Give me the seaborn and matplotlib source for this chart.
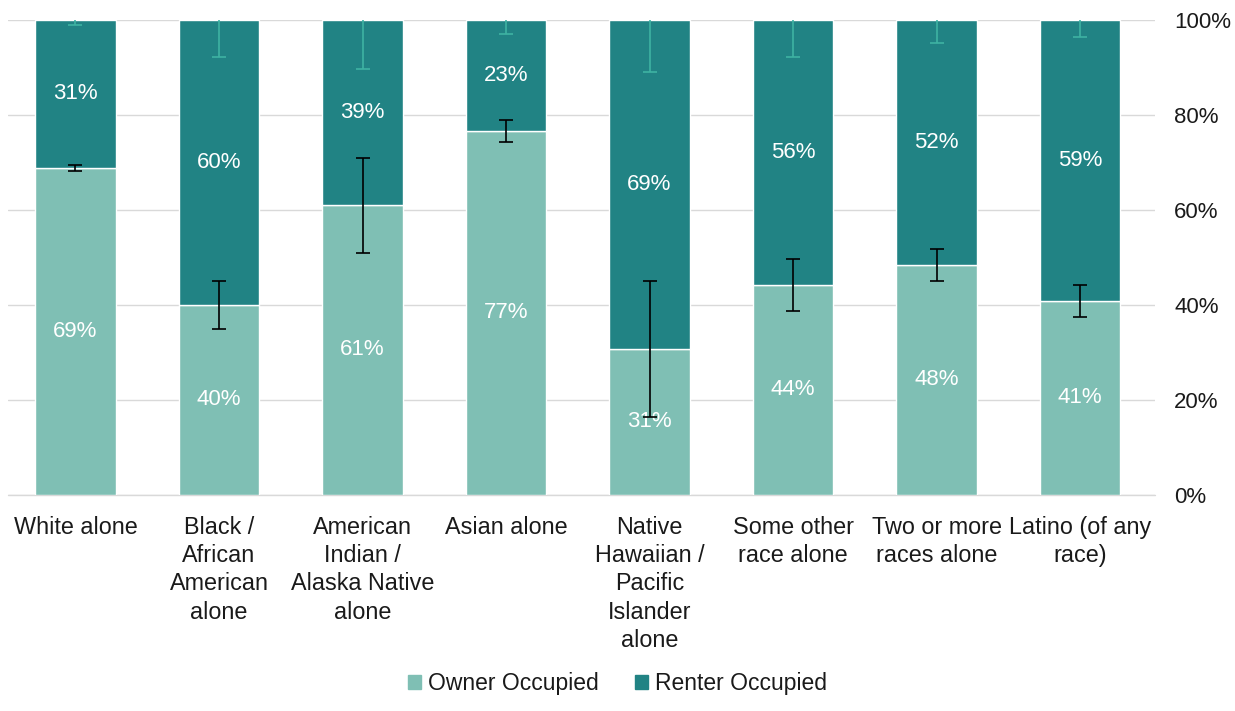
import numpy as np
import pandas as pd
import matplotlib.pyplot as plt
import seaborn as sns
from matplotlib.patches import Patch

categories = ["White alone", "Black /\nAfrican\nAmerican\nalone", "American\nIndian /\nAlaska Native\nalone",
              "Asian alone", "Native\nHawaiian /\nPacific\nIslander\nalone", "Some other\nrace alone",
              "Two or more\nraces alone", "Latino (of any\nrace)"]
owner = [68.8, 40.0, 61.0, 76.6, 30.7, 44.2, 48.4, 40.8]
renter = [31.2, 60.0, 39.0, 23.4, 69.3, 55.8, 51.6, 59.2]
owner_err = [0.7, 5.0, 10.0, 2.3, 14.3, 5.5, 3.4, 3.4]
renter_err = [1.1, 7.8, 10.4, 3.0, 10.9, 7.8, 4.8, 3.5]

owner_color = "#7fbfb4"
renter_color = "#218384"
text_color = "#1a1a1a"

sns.set_style("white")
plt.rcParams['font.family'] = ['Liberation Sans', 'DejaVu Sans']

df = pd.DataFrame({"cat": categories, "owner": owner, "renter": renter})

fig = plt.figure(figsize=(12.35, 7.11), dpi=100)
ax = fig.add_axes([0.0065, 0.304, 0.9285, 0.668])

sns.barplot(data=df, x="cat", y="owner", color=owner_color, width=0.56, ax=ax,
            saturation=1, zorder=2)
sns.barplot(data=df, x="cat", y="renter", color=renter_color, width=0.56, ax=ax,
            saturation=1, bottom=df["owner"], zorder=2)

x = np.arange(len(categories))
ax.errorbar(x, owner, yerr=owner_err, fmt="none", ecolor="black", elinewidth=1.2,
            capsize=5, capthick=1.2, zorder=4)
ax.errorbar(x, [o + r for o, r in zip(owner, renter)], yerr=renter_err, fmt="none",
            ecolor="#3fb3a3", elinewidth=1.2, capsize=5, capthick=1.2, zorder=4)

for i in range(len(categories)):
    ax.text(x[i], owner[i] / 2, f"{round(owner[i])}%", ha="center", va="center",
            color="white", fontsize=16, zorder=3)
    ax.text(x[i], owner[i] + renter[i] / 2, f"{round(renter[i])}%", ha="center", va="center",
            color="white", fontsize=16, zorder=3)

ax.set_ylim(0, 100)
ax.set_xlim(-0.47, 7.52)
ax.yaxis.tick_right()
ax.set_yticks([0, 20, 40, 60, 80, 100])
ax.set_yticklabels([f"{v}%" for v in [0, 20, 40, 60, 80, 100]], fontsize=16, color=text_color)
ax.tick_params(axis="y", length=0, pad=14)
ax.tick_params(axis="x", length=0, pad=15)
ax.set_xticks(x)
ax.set_xticklabels(categories, va="top", ha="center", linespacing=1.3, fontsize=16.8,
                   color=text_color)
ax.set_xlabel("")
ax.set_ylabel("")
ax.yaxis.grid(True, color="#d9d9d9", linewidth=1, zorder=0)
ax.axhline(0, color="#d9d9d9", linewidth=1, clip_on=False, zorder=1)
ax.set_axisbelow(True)
for s in ax.spines.values():
    s.set_visible(False)

handles = [Patch(color=owner_color), Patch(color=renter_color)]
leg = fig.legend(handles, ["Owner Occupied", "Renter Occupied"], loc="center",
                 bbox_to_anchor=(0.5, 0.039), ncol=2, frameon=False, fontsize=16.5,
                 handlelength=0.57, handleheight=0.57, columnspacing=1.6, handletextpad=0.3)
for t in leg.get_texts():
    t.set_color(text_color)

fig.savefig("out.png", dpi=100)
